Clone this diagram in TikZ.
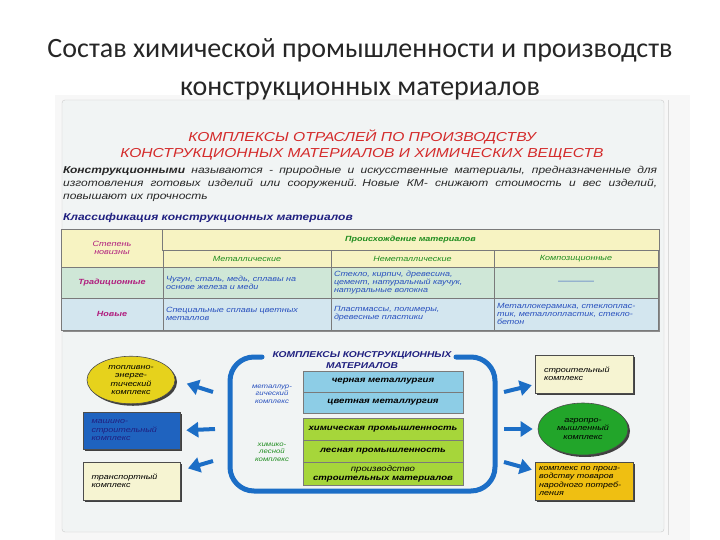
\documentclass[tikz,border=0pt]{standalone}
\usepackage{fontspec}
\setmainfont{Liberation Sans}[FakeStretch=1.2]
\newfontfamily\titlefont{Carlito}
\usetikzlibrary{arrows.meta, shapes.geometric, shadows, positioning}
\definecolor{myred}{RGB}{212,42,42}
\definecolor{mynavy}{RGB}{32,32,128}
\definecolor{mygreen}{RGB}{30,140,30}
\definecolor{mymagenta}{RGB}{176,30,126}
\definecolor{mycelltext}{RGB}{40,80,190}
\definecolor{myyellow}{RGB}{247,243,194}
\definecolor{mytrad}{RGB}{207,231,215}
\definecolor{mynew}{RGB}{211,230,239}
\definecolor{myborder}{RGB}{122,122,122}
\definecolor{myblue}{RGB}{28,110,198}
\definecolor{mylightblue}{RGB}{141,205,230}
\definecolor{mylime}{RGB}{166,214,58}
\definecolor{myfuel}{RGB}{230,210,28}
\definecolor{mymach}{RGB}{31,99,191}
\definecolor{mycream}{RGB}{246,244,210}
\definecolor{myagro}{RGB}{34,165,42}
\definecolor{mygold}{RGB}{239,191,18}
\definecolor{mypanel}{RGB}{241,244,244}

\begin{document}
\begin{tikzpicture}[x=1pt, y=-1pt]
\tikzset{CellStyle/.style = {draw=myborder, line width=0.8pt, inner sep=3pt, font=\fontsize{7.5}{8}\selectfont\itshape}}
\tikzset{BodyCellStyle/.style = {CellStyle, align=left, text=mycelltext}}
\tikzset{HeadCellStyle/.style = {CellStyle, align=center, text=mygreen, fill=myyellow}}
\tikzset{KMBoxStyle/.style = {draw=myborder, line width=0.8pt, minimum width=160, align=center, inner sep=1pt, font=\fontsize{8}{9}\selectfont\bfseries\itshape}}
\tikzset{OuterStyle/.style = {draw=black!70, line width=0.6pt, inner sep=2pt, font=\fontsize{7.5}{8.5}\selectfont\itshape,
    drop shadow={shadow xshift=2pt, shadow yshift=-2pt, fill=black!75, opacity=1}}}
\tikzset{ArrowStyle/.style = {-{Triangle[width=15pt, length=12pt]}, line width=4pt, myblue}}
\tikzset{SmallLabelStyle/.style = {align=center, font=\fontsize{6.5}{7.5}\selectfont\itshape}}
\useasboundingbox (0,0) rectangle (720,540);
\fill[white] (0,0) rectangle (720,540);
\fill[black!3] (55,95) rectangle (690,540);
\draw[black!20, fill=mypanel, rounded corners=3pt] (62,100) rectangle (664,532);
\draw[black!15] (668,100) -- (668,535);

\node[align=center, text=black!85, font=\titlefont\fontsize{28}{38}\selectfont] (Title) at (360,69)
    {Состав химической промышленности и производств\\конструкционных материалов};

\node[align=center, text=myred, font=\fontsize{13}{16}\selectfont\itshape] (Head) at (362,145)
    {КОМПЛЕКСЫ ОТРАСЛЕЙ ПО ПРОИЗВОДСТВУ\\КОНСТРУКЦИОННЫХ МАТЕРИАЛОВ И ХИМИЧЕСКИХ ВЕЩЕСТВ};
\node[anchor=north west, inner sep=0pt, text width=594, align=justify, text=black!85,
    font=\fontsize{10}{13}\selectfont\itshape] (Definition) at (63,166)
    {\textbf{Конструкционными} называются - природные и искусственные материалы, предназначенные для\linebreak изготовления готовых изделий или сооружений.\enspace Новые КМ- снижают стоимость и вес изделий,\linebreak повышают их прочность};
\node[anchor=west, inner sep=0pt, text=mynavy, font=\fontsize{10}{11}\selectfont\bfseries\itshape] (Class) at (63,218)
    {Классификация конструкционных материалов};

\fill[black!45] (63,231) rectangle (660,332);
\node[CellStyle, fill=myyellow, minimum width=102, minimum height=38, align=center, text=mymagenta] (T-novelty) at (112,248) {Степень\\новизны};
\node[HeadCellStyle, minimum width=497, minimum height=21, font=\fontsize{7.5}{8}\selectfont\bfseries\itshape] (T-origin) at (410.5,239.5) {Происхождение материалов};
\foreach \x/\w/\name/\txt in {247/168/metal/{Металлические}, 412.5/163/nonmetal/{Неметаллические}, 576/164/comp/{Композиционные}}
    \node[HeadCellStyle, minimum width=\w, minimum height=17] (T-\name) at (\x,258.5) {\txt};
\node[CellStyle, fill=mytrad, minimum width=102, minimum height=31, text=mymagenta, font=\fontsize{7.5}{8}\selectfont\bfseries\itshape] (T-trad) at (112,282.5) {Традиционные};
\node[CellStyle, fill=mynew, minimum width=102, minimum height=32, text=mymagenta, font=\fontsize{7.5}{8}\selectfont\bfseries\itshape] (T-new) at (112,314) {Новые};
\foreach \x/\w/\name/\txt in {247/168/metal/{Чугун, сталь, медь, сплавы на\\основе железа и меди}, 412.5/163/nonmetal/{Стекло, кирпич, древесина,\\цемент, натуральный каучук,\\натуральные волокна}, 576/164/comp/{\hfill————\hfill\null}}
    \node[BodyCellStyle, fill=mytrad, minimum width=\w, minimum height=31, text width=\w-6] (T-trad-\name) at (\x,282.5) {\txt};
\foreach \x/\w/\name/\txt in {247/168/metal/{Специальные сплавы цветных\\металлов}, 412.5/163/nonmetal/{Пластмассы, полимеры,\\древесные пластики}, 576/164/comp/{Металлокерамика, стеклоплас-\\тик, металлопластик, стекло-\\бетон}}
    \node[BodyCellStyle, fill=mynew, minimum width=\w, minimum height=32, text width=\w-6] (T-new-\name) at (\x,314) {\txt};

\draw[myblue, line width=5pt, rounded corners=24pt, line cap=round] (262,357) -- (230,357) -- (230,491) -- (495,491) -- (495,357) -- (456,357);
\node[align=center, text=mynavy, font=\fontsize{8.5}{11}\selectfont\bfseries\itshape] (KM-title) at (362,360)
    {КОМПЛЕКСЫ КОНСТРУКЦИОННЫХ\\МАТЕРИАЛОВ};
\node[KMBoxStyle, fill=mylightblue, minimum height=21] (KM-black) at (383,381.5) {черная металлургия};
\node[KMBoxStyle, fill=mylightblue, minimum height=21] (KM-color) at (383,402.5) {цветная металлургия};
\node[KMBoxStyle, fill=mylime, minimum height=22] (KM-chem) at (383,429) {химическая промышленность};
\node[KMBoxStyle, fill=mylime, minimum height=22] (KM-forest) at (383,451) {лесная промышленность};
\node[KMBoxStyle, fill=mylime, minimum height=23] (KM-build) at (383,473.5) {\mdseries производство\\строительных материалов};
\node[SmallLabelStyle, text=mycelltext] (KM-metal-label) at (272,394) {металлур-\\гический\\комплекс};
\node[SmallLabelStyle, text=mygreen] (KM-chem-label) at (272,452) {химико-\\лесной\\комплекс};

\node[OuterStyle, ellipse, fill=myfuel, minimum width=88, minimum height=44, align=center] (Fuel) at (131,380) {топливно-\\энерге-\\тический\\комплекс};
\node[OuterStyle, fill=mymach, minimum width=97, minimum height=37, text width=80, align=left, text=mynavy] (Mach) at (131.5,430.5) {машино-\\строительный\\комплекс};
\node[OuterStyle, fill=mycream, minimum width=97, minimum height=38, text width=80, align=left] (Trans) at (131.5,481) {транспортный\\комплекс};
\node[OuterStyle, fill=mycream, minimum width=98, minimum height=38, text width=80, align=left] (Build) at (584,374) {строительный\\комплекс};
\node[OuterStyle, ellipse, fill=myagro, minimum width=90, minimum height=52, align=center] (Agro) at (583,429) {агропро-\\мышленный\\комплекс};
\node[OuterStyle, fill=mygold, minimum width=98, minimum height=38, text width=90, align=left] (Cons) at (584,481) {комплекс по произ-\\водству товаров\\народного потреб-\\ления};

\coordinate (L-tail-1) at (213,392);
\coordinate (L-tail-2) at (215,429);
\coordinate (L-tail-3) at (213,461);
\coordinate (R-tail-1) at (504,392);
\coordinate (R-tail-2) at (504,429);
\coordinate (R-tail-3) at (504,462);
\draw[ArrowStyle, shorten >=12pt] (L-tail-1) -- (Fuel.east);
\draw[ArrowStyle, shorten >=6pt] (L-tail-2) -- (Mach.east);
\draw[ArrowStyle, shorten >=8pt] (L-tail-3) -- (Trans.12);
\draw[ArrowStyle, shorten >=3pt] (R-tail-1) -- (Build.192);
\draw[ArrowStyle, shorten >=5pt] (R-tail-2) -- (Agro.west);
\draw[ArrowStyle, shorten >=3pt] (R-tail-3) -- (Cons.168);
\end{tikzpicture}
\end{document}
